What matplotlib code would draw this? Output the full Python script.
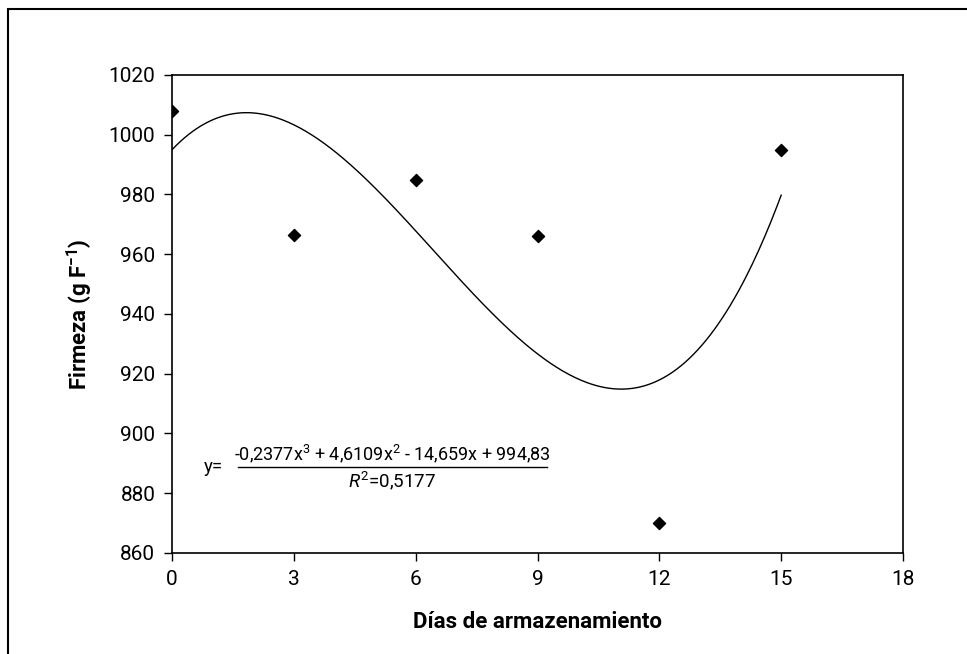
import numpy as np
import matplotlib
matplotlib.use('Agg')
import matplotlib.pyplot as plt
from matplotlib.patches import Rectangle

plt.rcParams['font.family'] = ['Roboto', 'DejaVu Sans']
plt.rcParams['mathtext.fontset'] = 'custom'
plt.rcParams['mathtext.rm'] = 'Roboto'
plt.rcParams['mathtext.it'] = 'Roboto:italic'
plt.rcParams['mathtext.bf'] = 'Roboto:bold'

dias = [0, 3, 6, 9, 12, 15]
firmeza = [1008, 966.5, 985, 966, 870, 995]
x_ticks = [0, 3, 6, 9, 12, 15, 18]
y_ticks = [860, 880, 900, 920, 940, 960, 980, 1000, 1020]

fig = plt.figure(figsize=(9.67, 6.54), dpi=100)
ax = fig.add_axes([172 / 967, 1 - 553 / 654, (903 - 172) / 967, (553 - 75) / 654])

# cubic trend line fitted to the points
coef = np.polyfit(dias, firmeza, 3)
xs = np.linspace(0, 15, 300)
ax.plot(xs, np.polyval(coef, xs), color='black', lw=1.0)
ax.scatter(dias, firmeza, marker='D', s=38, color='black', zorder=3)

ax.set_xlim(0, 18)
ax.set_ylim(860, 1020)
ax.set_xticks(x_ticks)
ax.set_yticks(y_ticks)
ax.tick_params(direction='out', length=6, width=1, labelsize=15, pad=6)
for s in ax.spines.values():
    s.set_linewidth(1.2)

ax.set_xlabel('Días de armazenamiento', fontsize=16, fontweight='bold', labelpad=16)
ax.set_ylabel('Firmeza (g F$^{\\mathbf{-1}}$)', fontsize=16, fontweight='bold', labelpad=10)

# equation annotation
fig.text(204 / 967, 1 - 467 / 654, 'y=', fontsize=13.5, va='center', ha='left')
fig.text(392 / 967, 1 - 454 / 654,
         '-0,2377x$^{3}$ + 4,6109x$^{2}$ - 14,659x + 994,83',
         fontsize=13, va='center', ha='center')
fig.add_artist(plt.Line2D([238 / 967, 547 / 967], [1 - 467 / 654, 1 - 467 / 654],
                          color='black', lw=1))
fig.text(392 / 967, 1 - 481 / 654, '$\\mathit{R}^{2}$=0,5177',
         fontsize=13.5, va='center', ha='center')

fig.add_artist(Rectangle((8 / 967, -0.1), 1.2, 1 - 9 / 654 + 0.1,
                         transform=fig.transFigure, fill=False,
                         edgecolor='black', lw=1.5))

fig.savefig('out.png', dpi=100)
